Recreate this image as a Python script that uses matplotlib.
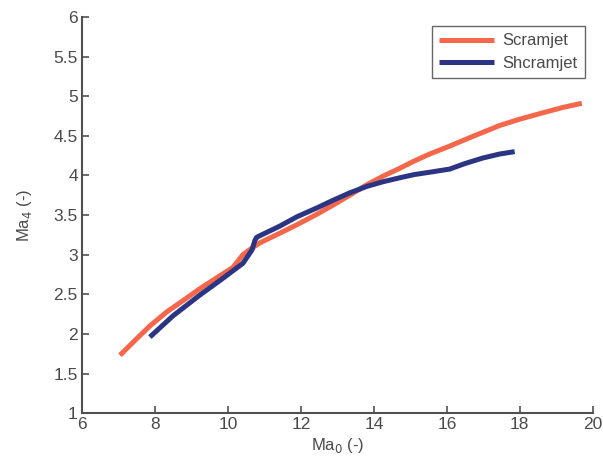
import matplotlib
matplotlib.use("Agg")
import matplotlib.pyplot as plt

# Flight Mach number Ma0 vs combustor entry Mach number Ma4
scram_ma0 = [7.04, 7.5, 7.86, 8.33, 8.8, 9.23, 9.7, 10.14, 10.41, 10.68, 10.88,
             11.42, 11.9, 12.44, 12.9, 13.34, 13.8, 14.25, 14.71, 15.1, 15.53,
             16.08, 16.7, 17.45, 18.0, 18.63, 19.2, 19.70]
scram_ma4 = [1.73, 1.94, 2.10, 2.28, 2.43, 2.57, 2.71, 2.84, 3.00, 3.09, 3.15,
             3.27, 3.38, 3.51, 3.63, 3.75, 3.88, 3.99, 4.09, 4.18, 4.27,
             4.37, 4.49, 4.63, 4.71, 4.79, 4.86, 4.91]

shcram_ma0 = [7.86, 8.5, 9.23, 9.8, 10.41, 10.66, 10.74, 10.79, 11.42, 11.9,
              12.44, 12.9, 13.34, 13.8, 14.25, 14.71, 15.1, 15.53, 16.08,
              16.5, 16.99, 17.45, 17.86]
shcram_ma4 = [1.96, 2.23, 2.49, 2.68, 2.89, 3.06, 3.18, 3.22, 3.36, 3.48,
              3.59, 3.69, 3.78, 3.86, 3.92, 3.97, 4.01, 4.04, 4.08,
              4.15, 4.22, 4.27, 4.30]

series_names = ["Scramjet", "Shcramjet"]
series_colors = ["#f4674a", "#2c3583"]

plt.rcParams["font.family"] = ["Liberation Sans", "DejaVu Sans"]

fig = plt.figure(figsize=(6.03, 4.70), dpi=100)
ax = fig.add_axes([0.136, 0.121, 0.847, 0.843])

ax.plot(scram_ma0, scram_ma4, color=series_colors[0], lw=3.6,
        solid_capstyle="butt", solid_joinstyle="round", label=series_names[0])
ax.plot(shcram_ma0, shcram_ma4, color=series_colors[1], lw=3.6,
        solid_capstyle="butt", solid_joinstyle="round", label=series_names[1])

ax.set_xlim(6, 20)
ax.set_ylim(1, 6)
ax.set_xticks([6, 8, 10, 12, 14, 16, 18, 20])
ax.set_yticks([1, 1.5, 2, 2.5, 3, 3.5, 4, 4.5, 5, 5.5, 6])
ax.set_yticklabels(["1", "1.5", "2", "2.5", "3", "3.5", "4", "4.5", "5", "5.5", "6"])

gray = "#505050"
for side in ("top", "right"):
    ax.spines[side].set_visible(False)
for side in ("left", "bottom"):
    ax.spines[side].set_color(gray)
    ax.spines[side].set_linewidth(1.5)
ax.tick_params(direction="in", length=5, width=1.2, colors=gray,
               labelsize=12.5, labelcolor="#4a4a4a", pad=3)

ax.set_xlabel("Ma$_0$ (-)", fontsize=12, color="#4a4a4a", labelpad=3)
ax.set_ylabel("Ma$_4$ (-)", fontsize=12, color="#4a4a4a", labelpad=14)

leg = ax.legend(loc="upper right", bbox_to_anchor=(0.995, 0.99), fontsize=12,
                frameon=True, fancybox=False, handlelength=3.3,
                borderpad=0.45, labelspacing=0.45, handletextpad=0.5,
                borderaxespad=0.3)
leg.get_frame().set_edgecolor("#404040")
leg.get_frame().set_linewidth(1.0)
for t in leg.get_texts():
    t.set_color("#4a4a4a")

fig.savefig("out.png", dpi=100, facecolor="white")
